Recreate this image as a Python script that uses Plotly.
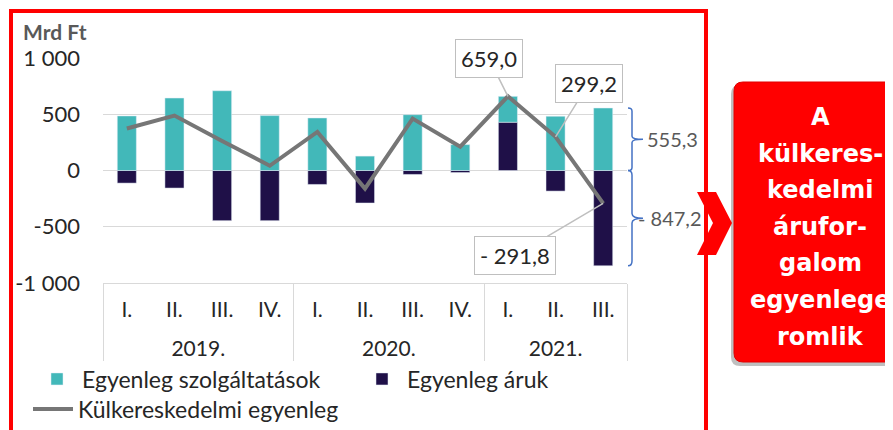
import plotly.graph_objects as go

# quarterly balances, Mrd Ft
years = ["2019."] * 4 + ["2020."] * 4 + ["2021."] * 3
quarters = ["I.", "II.", "III.", "IV.", "I.", "II.", "III.", "IV.", "I.", "II.", "III."]
services = [485, 644, 709, 488, 467, 128, 496, 230, 230, 482, 555.3]
goods = [-112, -156, -446, -446, -124, -289, -35, -18, 429, -183, -847.2]
balance = [373, 488, 263, 42, 343, -161, 461, 212, 659.0, 299.2, -291.8]

y_ticks = [1000, 500, 0, -500, -1000]
y_ticktext = ["1 000", "500", "0", "-500", "-1 000"]

box_lines = ["A", "külkeres-", "kedelmi", "árufor-", "galom", "egyenlege", "romlik"]

FONT = "Lato, 'Open Sans', sans-serif"
TEAL = "#42B8B9"
NAVY = "#1F1048"
GRAY = "#767676"

# the page puts the figure 8px in from the corner
OFF = 8
# plot area in screen pixels
L, R, T, B = 103, 627, 58, 283


def px(x):
    return (x - L) / (R - L)


def py(y):
    return (B - y) / (B - T)


# an invisible first line makes the quarter row taller, which pushes the year row down
pad = "<span style='font-size:14px'>\u00a0</span><br>"
xcat = [years, [pad + q for q in quarters]]

fig = go.Figure()
fig.add_trace(go.Bar(
    x=xcat, y=goods, name="Egyenleg áruk",
    marker=dict(color=NAVY), width=0.4, legend="legend2",
))
fig.add_trace(go.Bar(
    x=xcat, y=services, name="Egyenleg szolgáltatások",
    marker=dict(color=TEAL), width=0.4, legend="legend",
))
fig.add_trace(go.Scatter(
    x=xcat, y=balance, name="Külkereskedelmi egyenleg",
    mode="lines", line=dict(color=GRAY, width=4), legend="legend3",
))

shapes = []
# red frame around the chart
shapes.append(dict(type="rect", xref="paper", yref="paper",
                   x0=px(11), x1=px(706), y0=py(445), y1=py(11),
                   line=dict(color="#FF0000", width=4), layer="above"))


def rounded(x0, y0, x1, y1, r):
    pts = [
        f"M {px(x0 + r)},{py(y0)}",
        f"L {px(x1 - r)},{py(y0)}",
        f"Q {px(x1)},{py(y0)} {px(x1)},{py(y0 + r)}",
        f"L {px(x1)},{py(y1 - r)}",
        f"Q {px(x1)},{py(y1)} {px(x1 - r)},{py(y1)}",
        f"L {px(x0 + r)},{py(y1)}",
        f"Q {px(x0)},{py(y1)} {px(x0)},{py(y1 - r)}",
        f"L {px(x0)},{py(y0 + r)}",
        f"Q {px(x0)},{py(y0)} {px(x0 + r)},{py(y0)} Z",
    ]
    return " ".join(pts)


# red message box with a soft shadow
shapes.append(dict(type="path", xref="paper", yref="paper",
                   path=rounded(731, 85, 905, 366, 9),
                   fillcolor="rgba(0,0,0,0.25)", line=dict(width=0)))
shapes.append(dict(type="path", xref="paper", yref="paper",
                   path=rounded(734, 82, 905, 362, 9),
                   fillcolor="#FF0000", line=dict(color="#E00000", width=1)))

# chevron arrow
chev = [(697, 192), (716, 192), (732, 223), (716, 255), (697, 255), (713, 223)]
path = "M " + " L ".join(f"{px(a)},{py(b)}" for a, b in chev) + " Z"
shapes.append(dict(type="path", xref="paper", yref="paper", path=path,
                   fillcolor="#FF0000", line=dict(width=0), layer="above"))


# blue braces next to the last bar
def brace(y_top, y_bot):
    xa, xb, xt = px(628), px(632), px(643)
    ym = (y_top + y_bot) / 2
    k = (y_top - y_bot) * 0.05
    return (f"M {xa},{y_top} Q {xb},{y_top} {xb},{y_top - k} "
            f"L {xb},{ym + k} Q {xb},{ym} {xt},{ym} "
            f"Q {xb},{ym} {xb},{ym - k} "
            f"L {xb},{y_bot + k} Q {xb},{y_bot} {xa},{y_bot}")


shapes.append(dict(type="path", xref="paper", yref="y", path=brace(services[-1], 0),
                   line=dict(color="#4472C4", width=1.5)))
shapes.append(dict(type="path", xref="paper", yref="y", path=brace(0, goods[-1]),
                   line=dict(color="#4472C4", width=1.5)))

annotations = []
annotations.append(dict(text="<b>Mrd Ft</b>", xref="paper", yref="paper",
                        x=px(21), y=py(32), xanchor="left", yanchor="middle",
                        showarrow=False, font=dict(size=21, color="#595959")))

annotations.append(dict(text=f"{services[-1]:.1f}".replace(".", ","),
                        xref="paper", yref="y", x=px(645), y=services[-1] / 2,
                        xanchor="left", yanchor="middle", showarrow=False,
                        font=dict(size=20, color="#595959")))
annotations.append(dict(text=f"{goods[-1]:.1f}".replace("-", "- ").replace(".", ","),
                        xref="paper", yref="y", x=px(636), y=goods[-1] / 2,
                        xanchor="left", yanchor="middle", showarrow=False,
                        font=dict(size=20, color="#595959")))

# callouts on the line
for i, dx, dy in [(8, -19, -38), (9, 33, -53), (10, -88, 52)]:
    txt = f"{balance[i]:.1f}".replace("-", "- ").replace(".", ",")
    annotations.append(dict(text=txt, x=i, y=balance[i], xref="x", yref="y",
                            ax=dx, ay=dy, showarrow=True, arrowhead=0,
                            arrowcolor="#BFBFBF", arrowwidth=1.5,
                            bordercolor="#BFBFBF", borderwidth=1, borderpad=5,
                            bgcolor="white", font=dict(size=22, color="#262626")))

for n, line in enumerate(box_lines):
    annotations.append(dict(text=f"<b>{line}</b>", xref="paper", yref="paper",
                            x=px(820), y=py(117 + n * 36.6), xanchor="center",
                            yanchor="middle", showarrow=False,
                            font=dict(size=24, color="white",
                                      family="'DejaVu Sans', sans-serif")))

leg = dict(orientation="h", xanchor="left", yanchor="middle",
           font=dict(size=23, color="#262626"), itemwidth=40,
           bgcolor="rgba(0,0,0,0)")

fig.update_layout(
    width=893, height=430,
    margin=dict(l=L - OFF, r=893 - R + OFF, t=T - OFF, b=430 - B + OFF,
                autoexpand=False),
    paper_bgcolor="white", plot_bgcolor="white",
    barmode="relative",
    font=dict(family=FONT, color="#262626"),
    showlegend=True,
    legend=dict(leg, x=px(32), y=py(379)),
    legend2=dict(leg, x=px(357), y=py(379)),
    legend3=dict(leg, x=px(28), y=py(409)),
    shapes=shapes,
    annotations=annotations,
)
fig.update_yaxes(range=[-1000, 1000], tickvals=y_ticks, ticktext=y_ticktext,
                 tickfont=dict(size=22, color="#262626"), showgrid=True,
                 gridcolor="#D9D9D9", zeroline=False, ticklabelstandoff=22,
                 automargin=False)
fig.update_xaxes(type="multicategory", tickfont=dict(size=21, color="#262626"),
                 showline=True, linecolor="#D9D9D9", showdividers=True,
                 dividercolor="#D9D9D9", dividerwidth=1, automargin=False,
                 ticklabelstandoff=-20)

fig.write_html("out.html")
